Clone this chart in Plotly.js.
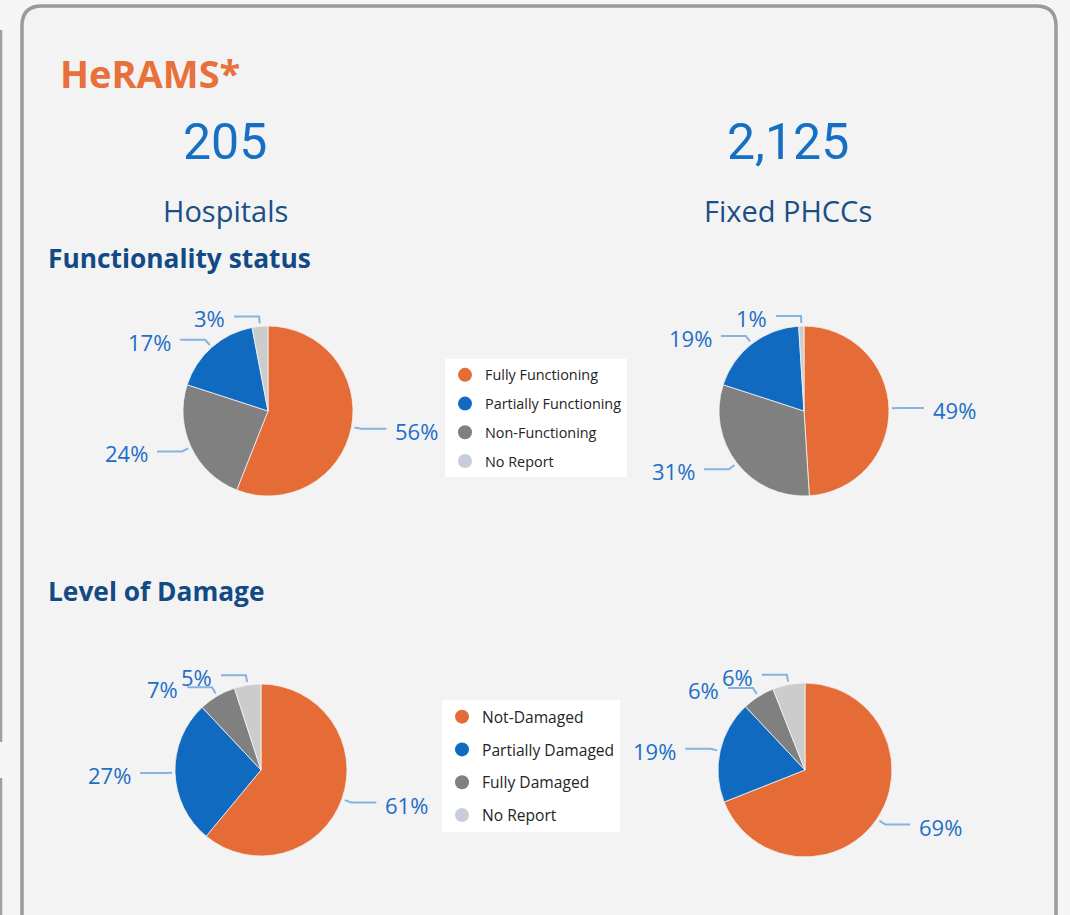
<!DOCTYPE html>
<html>
<head>
<meta charset="utf-8">
<script src="https://cdn.plot.ly/plotly-3.0.1.min.js"></script>
<style>
  html, body { margin: 0; padding: 0; background: #f5f5f5; }
  #chart { width: 1070px; height: 915px; }
</style>
</head>
<body>
<div id="chart"></div>
<script>
// ---------------- DATA ----------------
const pageTitle = 'HeRAMS*';
const facilityCounts = ['205', '2,125'];
const facilityNames = ['Hospitals', 'Fixed PHCCs'];
const sectionTitles = ['Functionality status', 'Level of Damage'];

const functionalityLabels = ['Fully Functioning', 'Partially Functioning', 'Non-Functioning', 'No Report'];
const hospitalsFunctionality = [56, 17, 24, 3];
const phccsFunctionality = [49, 19, 31, 1];

const damageLabels = ['Not-Damaged', 'Partially Damaged', 'Fully Damaged', 'No Report'];
const hospitalsDamage = [61, 27, 7, 5];
const phccsDamage = [69, 19, 6, 6];

// order in which slices are drawn clockwise from 12 o'clock (indices into the label arrays)
const functionalitySliceOrder = [0, 2, 1, 3];
const damageSliceOrder = [0, 1, 2, 3];

// ---------------- STYLE / LAYOUT ----------------
const W = 1070, H = 915;
const px = x => x / W;
const py = y => 1 - y / H;

const pieColors = ['#E66C37', '#106BC0', '#808080', '#CCCCCC'];
const legendColors = ['#E66C37', '#106BC0', '#808080', '#C8CED9'];
const labelColor = '#1D6FC6';
const leaderColor = '#86B3E2';
const labelFont = 'Open Sans, sans-serif';

const pies = [
  {cx: 268, cy: 411, r: 85, labels: functionalityLabels, values: hospitalsFunctionality, order: functionalitySliceOrder},
  {cx: 804, cy: 411, r: 85, labels: functionalityLabels, values: phccsFunctionality, order: functionalitySliceOrder},
  {cx: 261, cy: 770, r: 86, labels: damageLabels, values: hospitalsDamage, order: damageSliceOrder},
  {cx: 805, cy: 770, r: 87, labels: damageLabels, values: phccsDamage, order: damageSliceOrder}
];

const traces = [];
const shapes = [];
const annotations = [];

// card background + border
(function () {
  const l = 22, t = 6, r = 1056, b = 940, rad = 20;
  const p = `M${px(l)},${py(t + rad)} Q${px(l)},${py(t)} ${px(l + rad)},${py(t)} L${px(r - rad)},${py(t)} Q${px(r)},${py(t)} ${px(r)},${py(t + rad)} L${px(r)},${py(b)} L${px(l)},${py(b)} Z`;
  shapes.push({type: 'path', xref: 'paper', yref: 'paper', path: p, fillcolor: '#F3F3F3', line: {color: '#9A9A9A', width: 3.5}, layer: 'below'});
  // neighbouring card edge on the far left
  shapes.push({type: 'line', xref: 'paper', yref: 'paper', x0: px(1), x1: px(1), y0: py(30), y1: py(742), line: {color: '#A0A0A0', width: 2.5}, layer: 'below'});
  shapes.push({type: 'line', xref: 'paper', yref: 'paper', x0: px(1), x1: px(1), y0: py(778), y1: py(915), line: {color: '#A0A0A0', width: 2.5}, layer: 'below'});
})();

pies.forEach((pc, k) => {
  const labs = pc.order.map(i => pc.labels[i]);
  const vals = pc.order.map(i => pc.values[i]);
  const cols = pc.order.map(i => pieColors[i]);
  traces.push({
    type: 'pie', labels: labs, values: vals, sort: false, direction: 'clockwise', rotation: 0,
    textinfo: 'none', hoverinfo: 'label+percent', showlegend: false,
    marker: {colors: cols, line: {color: '#F3F3F3', width: 0.8}},
    domain: {x: [px(pc.cx - pc.r), px(pc.cx + pc.r)], y: [py(pc.cy + pc.r), py(pc.cy - pc.r)]}
  });
  // outside labels with leader lines, placed from slice mid-angles
  const total = vals.reduce((a, b) => a + b, 0);
  let cum = 0;
  vals.forEach((v, j) => {
    const mid = (cum + v / 2) / total * 2 * Math.PI;
    cum += v;
    const ux = Math.sin(mid), uy = -Math.cos(mid);
    const side = ux >= 0 ? 1 : -1;
    const x1 = pc.cx + (pc.r + 3) * ux, y1 = pc.cy + (pc.r + 3) * uy;
    const x2 = pc.cx + (pc.r + 10) * ux, y2 = pc.cy + (pc.r + 10) * uy;
    const x3 = x2 + side * 25;
    shapes.push({type: 'path', xref: 'paper', yref: 'paper',
      path: `M${px(x1)},${py(y1)} L${px(x2)},${py(y2)} L${px(x3)},${py(y2)}`,
      line: {color: leaderColor, width: 2}});
    annotations.push({xref: 'paper', yref: 'paper', x: px(x3 + side * 7), y: py(y2 + 2),
      xanchor: side > 0 ? 'left' : 'right', yanchor: 'middle', showarrow: false,
      text: v + '%', font: {family: labelFont, size: 22, color: labelColor}});
  });
});

// legends built from invisible marker traces
function addLegend(labels, legendId) {
  labels.forEach((lab, i) => {
    traces.push({type: 'scatter', mode: 'markers', x: [-10], y: [-10], name: lab,
      legend: legendId, legendgroup: legendId + i, showlegend: true, hoverinfo: 'skip',
      marker: {color: legendColors[i], size: 14, symbol: 'circle'}});
  });
}
addLegend(functionalityLabels, 'legend');
addLegend(damageLabels, 'legend2');

// headline texts
annotations.push({xref: 'paper', yref: 'paper', x: px(58), y: py(73), xanchor: 'left', yanchor: 'middle', showarrow: false,
  text: pageTitle, font: {family: 'Open Sans, sans-serif', size: 38, weight: 700, color: '#E8703A'}});
const colCenters = [225, 788];
facilityCounts.forEach((c, i) => {
  annotations.push({xref: 'paper', yref: 'paper', x: px(colCenters[i]), y: py(142), xanchor: 'center', yanchor: 'middle', showarrow: false,
    text: c, font: {family: 'Roboto, sans-serif', size: 50, color: '#1570C5'}});
  annotations.push({xref: 'paper', yref: 'paper', x: px(colCenters[i]), y: py(211), xanchor: 'center', yanchor: 'middle', showarrow: false,
    text: facilityNames[i], font: {family: 'Open Sans, sans-serif', size: 29, color: '#1A4F86'}});
});
const sectionY = [258, 591];
sectionTitles.forEach((s, i) => {
  annotations.push({xref: 'paper', yref: 'paper', x: px(46), y: py(sectionY[i]), xanchor: 'left', yanchor: 'middle', showarrow: false,
    text: s, font: {family: 'Open Sans, sans-serif', size: 26.3, weight: 700, color: '#124A85'}});
});

const layout = {
  width: W, height: H,
  margin: {l: 0, r: 0, t: 0, b: 0},
  paper_bgcolor: '#F5F5F5', plot_bgcolor: 'rgba(0,0,0,0)',
  xaxis: {visible: false, range: [0, 1], domain: [0, 0.01], fixedrange: true},
  yaxis: {visible: false, range: [0, 1], domain: [0, 0.01], fixedrange: true},
  shapes: shapes, annotations: annotations,
  legend: {x: px(445), y: py(359), xanchor: 'left', yanchor: 'top', bgcolor: '#FFFFFF', borderwidth: 0,
    font: {family: 'Open Sans, sans-serif', size: 14.4, color: '#252423'}, tracegroupgap: 7, itemsizing: 'trace', itemclick: false, itemdoubleclick: false},
  legend2: {x: px(442), y: py(700), xanchor: 'left', yanchor: 'top', bgcolor: '#FFFFFF', borderwidth: 0,
    font: {family: 'Open Sans, sans-serif', size: 15.6, color: '#252423'}, tracegroupgap: 9.5, itemsizing: 'trace', itemclick: false, itemdoubleclick: false},
  showlegend: true
};

Plotly.newPlot('chart', traces, layout, {displayModeBar: false, staticPlot: false});
</script>
</body>
</html>
